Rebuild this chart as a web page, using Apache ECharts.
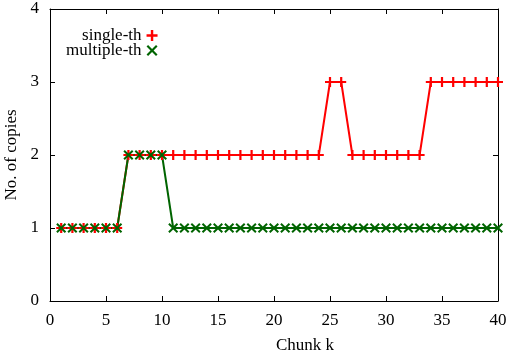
<!DOCTYPE html>
<html><head><meta charset="utf-8">
<script src="https://cdn.jsdelivr.net/npm/echarts@6/dist/echarts.min.js"></script>
<style>html,body{margin:0;padding:0;background:#fff;}#c{width:519px;height:360px;}</style>
</head><body><div id="c"></div>
<script>
const chunks = [1,2,3,4,5,6,7,8,9,10,11,12,13,14,15,16,17,18,19,20,21,22,23,24,25,26,27,28,29,30,31,32,33,34,35,36,37,38,39,40];
const singleTh = [1,1,1,1,1,1,2,2,2,2,2,2,2,2,2,2,2,2,2,2,2,2,2,2,3,3,2,2,2,2,2,2,2,3,3,3,3,3,3,3];
const multipleTh = [1,1,1,1,1,1,2,2,2,2,1,1,1,1,1,1,1,1,1,1,1,1,1,1,1,1,1,1,1,1,1,1,1,1,1,1,1,1,1,1];
const seriesNames = ['single-th','multiple-th'];
const xTicks = [0,5,10,15,20,25,30,35,40];
const yTicks = [0,1,2,3,4];

const FONT = '"Liberation Serif", "DejaVu Serif", serif';
const plusPath = 'path://M3.9,0H6.1V3.9H10V6.1H6.1V10H3.9V6.1H0V3.9H3.9Z';
const crossPath = 'path://M1.4,0L5,3.6L8.6,0L10,1.4L6.4,5L10,8.6L8.6,10L5,6.4L1.4,10L0,8.6L3.6,5L0,1.4Z';
const RED = '#ff0000', GREEN = '#006400';

const chart = echarts.init(document.getElementById('c'), null, {renderer:'canvas'});
const axisLine = {show:true, onZero:false, lineStyle:{color:'#000', width:1}};
const tickIn = {show:true, inside:true, length:5, lineStyle:{color:'#000', width:1}};
chart.setOption({
  animation:false,
  backgroundColor:'#fff',
  grid:{left:50, right:21, top:9, bottom:59, containLabel:false, outerBoundsMode:'none'},
  legend:{
    orient:'vertical', left:61, top:22, align:'right', itemGap:-2,
    itemWidth:11, itemHeight:11,
    textStyle:{fontFamily:FONT, fontSize:17, color:'#000'},
    data:[{name:seriesNames[0], icon:plusPath, itemStyle:{color:RED}},
          {name:seriesNames[1], icon:crossPath, itemStyle:{color:GREEN}}]
  },
  graphic:[{type:'text', left:276, top:337, style:{text:'Chunk k', font:'17px ' + FONT, fill:'#000'}}],
  xAxis:[{
    type:'value', min:xTicks[0], max:xTicks[xTicks.length-1], interval:5,
    axisLine:axisLine, axisTick:tickIn, splitLine:{show:false},
    axisLabel:{fontFamily:FONT, fontSize:17, color:'#000', margin:11}
  },{
    type:'value', position:'top', min:0, max:40, interval:5,
    axisLine:axisLine, axisTick:tickIn, splitLine:{show:false}, axisLabel:{show:false}
  }],
  yAxis:[{
    type:'value', min:yTicks[0], max:yTicks[yTicks.length-1], interval:1,
    name:'No. of copies', nameLocation:'middle', nameGap:24,
    nameTextStyle:{fontFamily:FONT, fontSize:17, color:'#000'},
    axisLine:axisLine, axisTick:tickIn, splitLine:{show:false},
    axisLabel:{fontFamily:FONT, fontSize:17, color:'#000', margin:11}
  },{
    type:'value', position:'right', min:0, max:4, interval:1,
    axisLine:axisLine, axisTick:tickIn, splitLine:{show:false}, axisLabel:{show:false}
  }],
  series:[{
    name:seriesNames[0], type:'line', data:chunks.map((x,i)=>[x,singleTh[i]]),
    symbol:plusPath, symbolSize:10, showAllSymbol:true,
    lineStyle:{color:RED, width:2}, itemStyle:{color:RED}
  },{
    name:seriesNames[1], type:'line', data:chunks.map((x,i)=>[x,multipleTh[i]]),
    symbol:crossPath, symbolSize:10, showAllSymbol:true,
    lineStyle:{color:GREEN, width:2}, itemStyle:{color:GREEN}
  }]
});
</script></body></html>
